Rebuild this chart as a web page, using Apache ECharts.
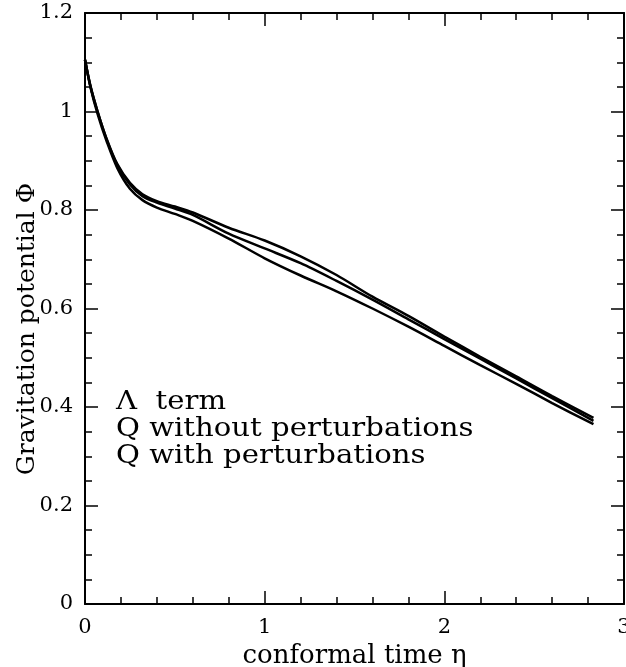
<!DOCTYPE html>
<html>
<head>
<meta charset="utf-8">
<script src="https://cdn.jsdelivr.net/npm/echarts@6/dist/echarts.min.js"></script>
<style>html,body{margin:0;padding:0;background:#fff}#c{width:626px;height:667px}</style>
</head>
<body>
<div id="c"></div>
<script>
const etaValues = [0, 0.03, 0.07, 0.12, 0.18, 0.25, 0.32, 0.4, 0.5, 0.6, 0.8, 1.0, 1.2, 1.4, 1.6, 1.8, 2.0, 2.2, 2.4, 2.6, 2.83];
const lambdaTerm = [1.105, 1.05, 0.995, 0.94, 0.885, 0.843, 0.82, 0.805, 0.792, 0.778, 0.742, 0.702, 0.667, 0.635, 0.6, 0.563, 0.524, 0.485, 0.447, 0.408, 0.365];
const qWithout = [1.105, 1.052, 1.0, 0.945, 0.893, 0.855, 0.832, 0.818, 0.807, 0.795, 0.764, 0.738, 0.706, 0.668, 0.624, 0.585, 0.543, 0.502, 0.462, 0.422, 0.378];
const qWith = [1.105, 1.052, 1.0, 0.944, 0.891, 0.852, 0.828, 0.815, 0.803, 0.79, 0.752, 0.722, 0.692, 0.656, 0.618, 0.578, 0.538, 0.498, 0.458, 0.418, 0.372];
const legendLines = ['Λ  term', 'Q without perturbations', 'Q with perturbations'];
const xTickLabels = ['0', '1', '2', '3'];

const font = 'DejaVu Serif';
const pair = (ys) => etaValues.map((x, i) => [x, ys[i]]);
const lineStyle = { color: '#000', width: 2.5 };
const axisLine = { show: true, onZero: false, lineStyle: { color: '#000', width: 2 } };
const tick = { show: true, inside: true, length: 13, lineStyle: { color: '#000', width: 1.5 } };
const minor = (n) => ({ show: true, splitNumber: n, length: 7, lineStyle: { color: '#000', width: 1.5 } });
const legendText = (i, y) => ({ type: 'text', x: 116, y, scaleX: 1.12,
  style: { text: legendLines[i], x: 0, y: 0, fontFamily: font, fontSize: 26, fill: '#000', verticalAlign: 'middle' } });

const chart = echarts.init(document.getElementById('c'), null, { renderer: 'canvas' });
chart.setOption({
  animation: false,
  backgroundColor: '#fff',
  grid: { left: 85, right: 2, top: 13, bottom: 63, outerBoundsMode: 'none', containLabel: false },
  xAxis: [
    { type: 'value', min: 0, max: 3, interval: 1, position: 'bottom',
      name: 'conformal time η', nameLocation: 'middle', nameGap: 37,
      nameTextStyle: { fontFamily: font, fontSize: 26, color: '#000' },
      axisLine, axisTick: tick, minorTick: minor(5), splitLine: { show: false },
      axisLabel: { fontFamily: font, fontSize: 21, color: '#000', margin: 13,
        formatter: (v) => xTickLabels[Math.round(v)] } },
    { type: 'value', min: 0, max: 3, interval: 1, position: 'top',
      axisLine, axisTick: tick, minorTick: minor(5), splitLine: { show: false },
      axisLabel: { show: false } }
  ],
  yAxis: [
    { type: 'value', min: 0, max: 1.2, interval: 0.2, position: 'left',
      axisLine, axisTick: tick, minorTick: minor(4), splitLine: { show: false },
      axisLabel: { fontFamily: font, fontSize: 21, color: '#000', margin: 12,
        formatter: (v) => String(Math.round(v * 10) / 10) } },
    { type: 'value', min: 0, max: 1.2, interval: 0.2, position: 'right',
      axisLine, axisTick: tick, minorTick: minor(4), splitLine: { show: false },
      axisLabel: { show: false } }
  ],
  series: [
    { type: 'line', name: legendLines[0], data: pair(lambdaTerm), showSymbol: false, smooth: 0.3, lineStyle },
    { type: 'line', name: legendLines[1], data: pair(qWithout), showSymbol: false, smooth: 0.3, lineStyle },
    { type: 'line', name: legendLines[2], data: pair(qWith), showSymbol: false, smooth: 0.3, lineStyle }
  ],
  graphic: [
    { type: 'text', x: 27, y: 329, rotation: Math.PI / 2,
      style: { text: 'Gravitation potential Φ', fontFamily: font, fontSize: 25, fill: '#000',
        x: 0, y: 0, align: 'center', verticalAlign: 'middle' } },
    legendText(0, 402),
    legendText(1, 429),
    legendText(2, 456)
  ]
});
</script>
</body>
</html>
